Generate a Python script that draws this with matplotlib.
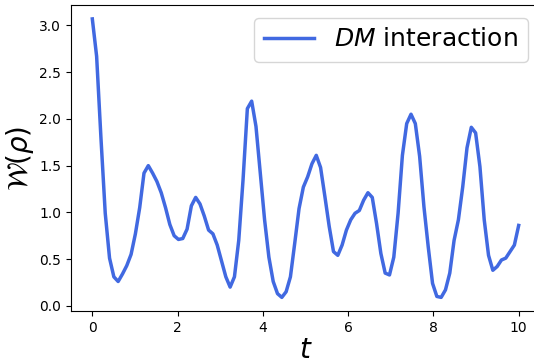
import matplotlib
matplotlib.use('Agg')
import matplotlib.pyplot as plt
import numpy as np

# time grid (100 samples on [0, 10])
t = np.linspace(0, 10, 100)

# W(rho)
w_dm = [
    3.07, 2.67, 1.80, 0.99, 0.51, 0.31, 0.26, 0.34, 0.43, 0.55,
    0.77, 1.05, 1.42, 1.50, 1.42, 1.33, 1.21, 1.05, 0.87, 0.75,
    0.71, 0.72, 0.82, 1.07, 1.16, 1.09, 0.96, 0.81, 0.77, 0.65,
    0.48, 0.31, 0.20, 0.31, 0.70, 1.35, 2.11, 2.19, 1.92, 1.42,
    0.92, 0.52, 0.26, 0.13, 0.09, 0.15, 0.31, 0.67, 1.04, 1.27,
    1.38, 1.52, 1.61, 1.48, 1.17, 0.85, 0.58, 0.54, 0.65, 0.81,
    0.92, 0.99, 1.02, 1.13, 1.21, 1.16, 0.88, 0.56, 0.35, 0.33,
    0.52, 0.99, 1.61, 1.95, 2.05, 1.95, 1.60, 1.06, 0.63, 0.24,
    0.10, 0.09, 0.17, 0.35, 0.70, 0.92, 1.27, 1.69, 1.91, 1.85,
    1.49, 0.92, 0.54, 0.38, 0.42, 0.49, 0.51, 0.58, 0.65, 0.86,
]

fig = plt.figure(figsize=(5.34, 3.6), dpi=100)
# axes run a little past the right edge, like the reference crop
ax = fig.add_axes([71/534, 48.7/360, 469/534, 306.3/360])

ax.plot(t, w_dm, color='royalblue', linewidth=2.5, label=r'$DM$ interaction')

ax.set_xticks([0, 2, 4, 6, 8, 10])
ax.set_yticks([0.0, 0.5, 1.0, 1.5, 2.0, 2.5, 3.0])
ax.set_xlabel(r'$t$', fontsize=20, labelpad=1)
ax.set_ylabel(r'$\mathcal{W}(\rho)$', fontsize=20, labelpad=2)
ax.legend(loc='upper right', fontsize=18)

fig.savefig('out.png', dpi=100)
